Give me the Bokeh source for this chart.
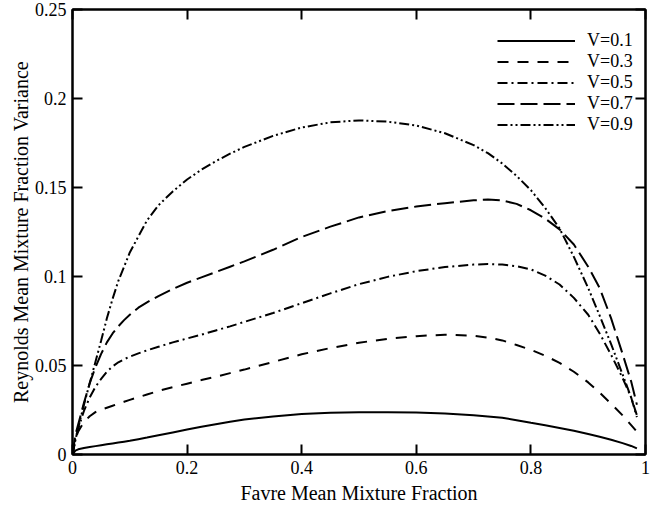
from bokeh.plotting import figure
from bokeh.models import Legend, LegendItem, LinearAxis, FixedTicker, Range1d
from bokeh.embed import file_html
from bokeh.resources import INLINE

# Favre mean mixture fraction (common abscissa for all curves)
favre_mean = [0.0, 0.005, 0.01, 0.02, 0.03, 0.04, 0.05, 0.06, 0.07, 0.08, 0.09, 0.1,
              0.115, 0.13, 0.15, 0.175, 0.2, 0.225, 0.25, 0.275, 0.3,
              0.35, 0.4, 0.45, 0.5, 0.55, 0.6, 0.65, 0.7,
              0.725, 0.75, 0.775, 0.8, 0.825, 0.85, 0.875, 0.9,
              0.92, 0.94, 0.96, 0.975, 0.985]

# Reynolds mean mixture fraction variance for each V
var_v01 = [0.0, 0.0022, 0.0029, 0.0036, 0.0042, 0.0047, 0.0052, 0.0057, 0.0062, 0.0067, 0.0072, 0.0077,
           0.0086, 0.0095, 0.0108, 0.0124, 0.014, 0.0156, 0.017, 0.0184, 0.0196,
           0.0214, 0.0227, 0.0235, 0.0238, 0.0238, 0.0236, 0.0231, 0.0221,
           0.0214, 0.0206, 0.0193, 0.0178, 0.0164, 0.0149, 0.0133, 0.0115,
           0.01, 0.0083, 0.0064, 0.0048, 0.0034]
var_v03 = [0.0, 0.0085, 0.013, 0.0182, 0.0215, 0.0238, 0.0252, 0.0263, 0.0274, 0.0285, 0.0296, 0.0307,
           0.0322, 0.0337, 0.0357, 0.0378, 0.0398, 0.0418, 0.0437, 0.0457, 0.0477,
           0.052, 0.0563, 0.0598, 0.0628, 0.065, 0.0665, 0.0673, 0.0667,
           0.0657, 0.0641, 0.0615, 0.0588, 0.0555, 0.0515, 0.0465, 0.0405,
           0.0348, 0.0285, 0.022, 0.0165, 0.0128]
var_v05 = [0.0, 0.009, 0.0145, 0.0245, 0.032, 0.038, 0.0425, 0.0465, 0.0495, 0.0518, 0.0535, 0.055,
           0.0568, 0.0585, 0.0605, 0.063, 0.0652, 0.0673, 0.0697, 0.072, 0.0745,
           0.0795, 0.085, 0.0905, 0.0957, 0.0998, 0.103, 0.1053, 0.1067,
           0.107, 0.1067, 0.1058, 0.104, 0.1005, 0.0955, 0.088, 0.0785,
           0.068, 0.056, 0.043, 0.032, 0.021]
var_v07 = [0.0, 0.011, 0.017, 0.029, 0.04, 0.049, 0.0565, 0.063, 0.068, 0.072, 0.0755, 0.0785,
           0.0825, 0.0855, 0.089, 0.093, 0.0965, 0.0995, 0.1025, 0.1055, 0.1085,
           0.115, 0.1222, 0.128, 0.1332, 0.1368, 0.1393, 0.1412, 0.1428,
           0.1432, 0.1427, 0.1408, 0.1372, 0.1325, 0.1265, 0.118, 0.1055,
           0.0935, 0.0765, 0.0565, 0.041, 0.028]
var_v09 = [0.0, 0.008, 0.015, 0.028, 0.04, 0.052, 0.064, 0.0765, 0.0875, 0.0975, 0.1055, 0.1135,
           0.1225, 0.1315, 0.14, 0.1478, 0.1545, 0.16, 0.1648, 0.169, 0.1728,
           0.179, 0.1837, 0.1866, 0.1877, 0.187, 0.1848, 0.1805, 0.1738,
           0.1693, 0.1635, 0.1565, 0.1485, 0.1385, 0.127, 0.111, 0.0935,
           0.078, 0.062, 0.045, 0.032, 0.022]

series_labels = ["V=0.1", "V=0.3", "V=0.5", "V=0.7", "V=0.9"]
series_values = [var_v01, var_v03, var_v05, var_v07, var_v09]
series_dashes = ["solid", "11 9", "10 4 2 4", "17 6", "10 3 2 3 2 3"]

x_ticks = [0, 0.2, 0.4, 0.6, 0.8, 1.0]
x_tick_labels = ["0", "0.2", "0.4", "0.6", "0.8", "1"]
y_ticks = [0, 0.05, 0.1, 0.15, 0.2, 0.25]
y_tick_labels = ["0", "0.05", "0.1", "0.15", "0.2", "0.25"]

SERIF = "Liberation Serif"

p = figure(frame_width=573, frame_height=445,
           x_range=Range1d(0, 1), y_range=Range1d(0, 0.25),
           output_backend="svg", toolbar_location=None,
           min_border_left=72, min_border_right=10,
           min_border_top=9, min_border_bottom=56)
p.background_fill_color = "white"
p.border_fill_color = "white"
p.outline_line_color = "black"
p.outline_line_width = 2
p.xgrid.visible = False
p.ygrid.visible = False


def style_axis(ax, ticks, labels, show_labels=True):
    ax.ticker = FixedTicker(ticks=ticks)
    ax.axis_line_color = "black"
    ax.axis_line_width = 2
    ax.major_tick_line_color = "black"
    ax.major_tick_line_width = 2
    ax.major_tick_in = 10
    ax.major_tick_out = 0
    ax.minor_tick_line_color = None
    if show_labels:
        ax.major_label_overrides = dict(zip(ticks, labels))
        ax.major_label_text_font = SERIF
        ax.major_label_text_font_size = "18px"
        ax.major_label_text_color = "black"
        ax.major_label_standoff = 6
        ax.axis_label_text_font = SERIF
        ax.axis_label_text_font_size = "20px"
        ax.axis_label_text_font_style = "normal"
        ax.axis_label_text_color = "black"
    else:
        # tick marks only, no labels on the mirrored edges
        ax.major_label_text_color = None
        ax.major_label_text_font_size = "1px"
        ax.major_label_standoff = 0


style_axis(p.xaxis[0], x_ticks, x_tick_labels)
p.xaxis[0].axis_label = "Favre Mean Mixture Fraction"
p.xaxis[0].axis_label_standoff = 5
style_axis(p.yaxis[0], y_ticks, y_tick_labels)
p.yaxis[0].axis_label = "Reynolds Mean Mixture Fraction Variance"
p.yaxis[0].axis_label_standoff = 0

# mirrored tick marks on the top and right edges
top_axis = LinearAxis()
style_axis(top_axis, x_ticks, x_tick_labels, show_labels=False)
p.add_layout(top_axis, "above")
right_axis = LinearAxis()
style_axis(right_axis, y_ticks, y_tick_labels, show_labels=False)
p.add_layout(right_axis, "right")

items = []
for label, values, dash in zip(series_labels, series_values, series_dashes):
    r = p.line(favre_mean, values, line_color="black", line_width=2, line_dash=dash)
    items.append(LegendItem(label=label, renderers=[r]))

legend = Legend(items=items, location=(425, 319), margin=0, padding=5,
                glyph_width=78, glyph_height=17, label_height=17, spacing=0,
                label_standoff=12, label_text_font=SERIF, label_text_font_size="18px",
                label_text_color="black", background_fill_alpha=0,
                border_line_color=None)
p.add_layout(legend)

open("out.html", "w").write(file_html(p, INLINE))
